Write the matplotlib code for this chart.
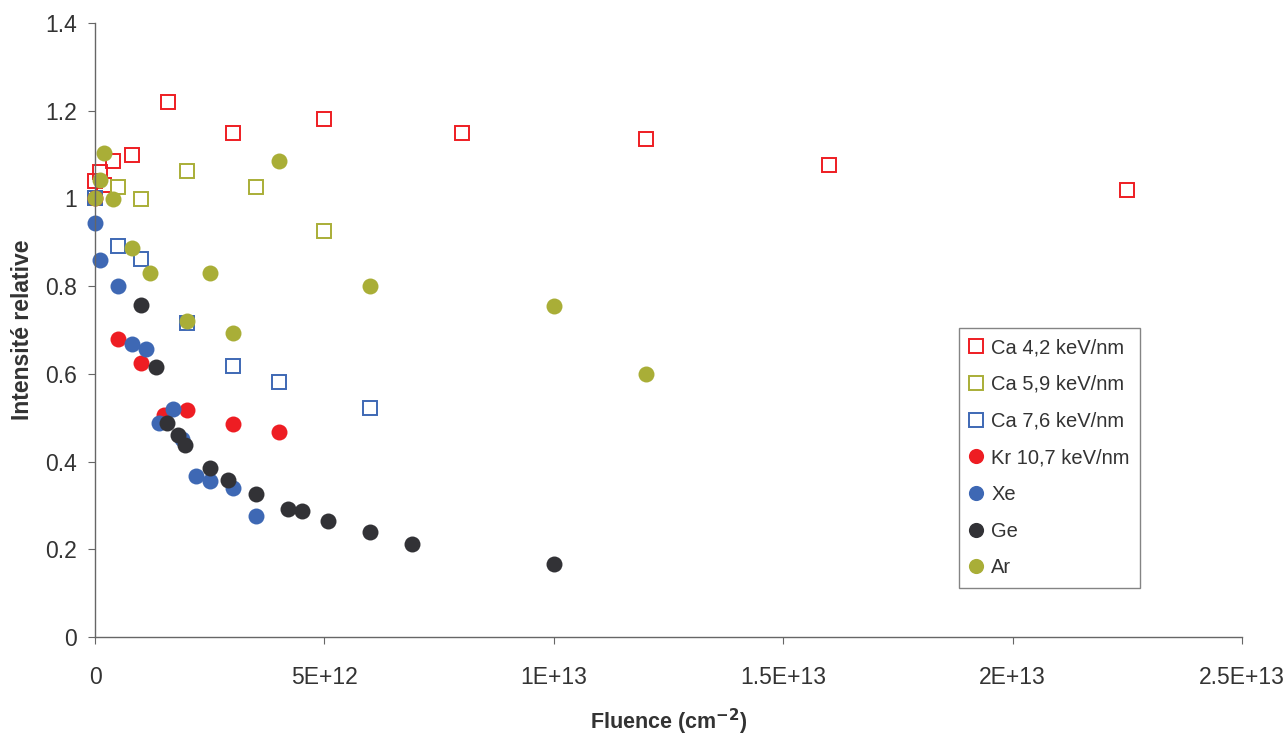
import numpy as np
import matplotlib
matplotlib.use('Agg')
import matplotlib.pyplot as plt
from matplotlib.ticker import FuncFormatter

plt.rcParams['font.family'] = ['Liberation Sans', 'DejaVu Sans']

# Ca 4,2 keV/nm (open squares)
ca42_x = [0, 0.1e12, 0.2e12, 0.4e12, 0.8e12, 1.6e12, 3e12, 5e12, 8e12, 12e12, 16e12, 22.5e12]
ca42_y = [1.04, 1.06, 1.03, 1.085, 1.10, 1.22, 1.15, 1.18, 1.148, 1.135, 1.077, 1.02]
# Ca 5,9 keV/nm
ca59_x = [0, 0.5e12, 1e12, 2e12, 3.5e12, 5e12]
ca59_y = [1.0, 1.026, 0.998, 1.063, 1.025, 0.925]
# Ca 7,6 keV/nm
ca76_x = [0, 0.5e12, 1e12, 2e12, 3e12, 4e12, 6e12]
ca76_y = [1.0, 0.892, 0.862, 0.716, 0.619, 0.582, 0.522]
# Kr 10,7 keV/nm
kr_x = [0, 0.5e12, 1e12, 1.5e12, 2e12, 3e12, 4e12]
kr_y = [1.0, 0.679, 0.624, 0.507, 0.518, 0.485, 0.468]
# Xe
xe_x = [0, 0.1e12, 0.5e12, 0.8e12, 1.1e12, 1.4e12, 1.7e12, 1.9e12, 2.2e12, 2.5e12, 3e12, 3.5e12]
xe_y = [0.943, 0.859, 0.80, 0.668, 0.657, 0.487, 0.519, 0.451, 0.366, 0.356, 0.339, 0.276]
# Ge
ge_x = [1e12, 1.33e12, 1.56e12, 1.8e12, 1.95e12, 2.5e12, 2.9e12, 3.5e12, 4.2e12, 4.5e12, 5.07e12, 6e12, 6.9e12, 10e12]
ge_y = [0.756, 0.615, 0.489, 0.461, 0.438, 0.385, 0.358, 0.325, 0.291, 0.288, 0.264, 0.239, 0.212, 0.166]
# Ar
ar_x = [0, 0.1e12, 0.2e12, 0.4e12, 0.8e12, 1.2e12, 2e12, 2.5e12, 3e12, 4e12, 6e12, 10e12, 12e12]
ar_y = [1.0, 1.042, 1.104, 0.998, 0.888, 0.829, 0.721, 0.829, 0.692, 1.085, 0.80, 0.755, 0.60]

red = '#EE1D23'
olive = '#A9AE37'
blue = '#3E68B4'
dark = '#323236'

fig = plt.figure(figsize=(12.88, 7.36), dpi=100)
ax = fig.add_axes([0.0738, 0.1345, 0.8905, 0.8343])

sq = dict(marker='s', linestyle='none', markersize=10.5, markerfacecolor='none',
          markeredgewidth=1.4, clip_on=False)
ci = dict(marker='o', linestyle='none', markersize=11.5, markeredgewidth=0, clip_on=False)

ax.plot(ca42_x, ca42_y, markeredgecolor=red, label='Ca 4,2 keV/nm', **sq)
ax.plot(ca59_x, ca59_y, markeredgecolor=olive, label='Ca 5,9 keV/nm', **sq)
ax.plot(ca76_x, ca76_y, markeredgecolor=blue, label='Ca 7,6 keV/nm', **sq)
ax.plot(kr_x, kr_y, color=red, label='Kr 10,7 keV/nm', **ci)
ax.plot(xe_x, xe_y, color=blue, label='Xe', **ci)
ax.plot(ge_x, ge_y, color=dark, label='Ge', **ci)
ax.plot(ar_x, ar_y, color=olive, label='Ar', **ci)

ax.set_xlim(0, 2.5e13)
ax.set_ylim(0, 1.4)
ax.set_xticks([0, 5e12, 1e13, 1.5e13, 2e13, 2.5e13])
ax.set_yticks(np.arange(0, 1.41, 0.2))

def fmt_x(v, pos):
    labels = {0: '0', 1: '5E+12', 2: '1E+13', 3: '1.5E+13', 4: '2E+13', 5: '2.5E+13'}
    return labels.get(pos, '')

ax.xaxis.set_major_formatter(FuncFormatter(fmt_x))
ax.yaxis.set_major_formatter(FuncFormatter(lambda v, p: '0' if v == 0 else ('1' if abs(v - 1) < 1e-9 else f'{v:.1f}')))

for s in ['top', 'right']:
    ax.spines[s].set_visible(False)
for s in ['left', 'bottom']:
    ax.spines[s].set_color('#666666')
    ax.spines[s].set_linewidth(1.0)
ax.tick_params(axis='both', colors='#666666', labelcolor='#333333', labelsize=16.5, length=5, direction='out')
ax.tick_params(axis='x', pad=16)
ax.tick_params(axis='y', pad=8)

ax.set_xlabel('Fluence (cm$^{\\mathbf{-2}}$)', fontsize=15.5, fontweight='bold', color='#333333', labelpad=13)
ax.set_ylabel('Intensité relative', fontsize=16.5, fontweight='bold', color='#333333', labelpad=8)

leg = ax.legend(loc='upper left', bbox_to_anchor=(0.7446, 0.5543), bbox_transform=fig.transFigure,
                borderaxespad=0, fancybox=False, edgecolor='#666666', fontsize=14.5,
                labelspacing=0.88, handlelength=0.7, handletextpad=0.4, borderpad=0.5,
                markerscale=0.95)
leg.get_frame().set_linewidth(1.0)
for t in leg.get_texts():
    t.set_color('#333333')

fig.savefig('out.png', dpi=100)
